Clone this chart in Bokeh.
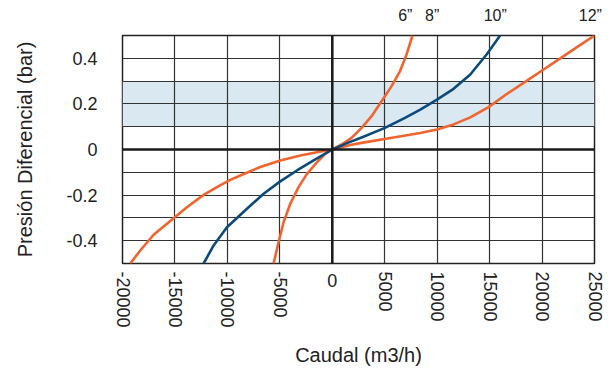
import math
from bokeh.plotting import figure
from bokeh.models import FixedTicker, BoxAnnotation, Span, LinearAxis
from bokeh.embed import file_html
from bokeh.resources import INLINE

# ---- data ----
x_ticks = [-20000, -15000, -10000, -5000, 0, 5000, 10000, 15000, 20000, 25000]
x_tick_labels = ["-20000", "-15000", "-10000", "-5000", " ", "5000", "10000", "15000", "20000", "25000"]
zero_tick = [0]
zero_label = ["0"]
y_ticks = [-0.4, -0.2, 0.0, 0.2, 0.4]
y_tick_labels = ["-0.4", "-0.2", "0", "0.2", "0.4"]
y_grid = [-0.4, -0.3, -0.2, -0.1, 0.0, 0.1, 0.2, 0.3, 0.4]

# 6"/8" curve (steep, orange)
c6_q = [-5596, -5120, -4643, -4004, -3213, -2412, -1459, -667, 0,
        890, 1840, 2795, 3750, 4700, 5655, 6450, 7085, 7650]
c6_p = [-0.5, -0.407, -0.319, -0.238, -0.165, -0.107, -0.056, -0.019, 0.0,
        0.022, 0.051, 0.095, 0.146, 0.212, 0.278, 0.343, 0.417, 0.5]

# 10" curve (blue)
c10_q = [-12268, -11315, -10043, -8135, -6546, -4958, -3369, -1780, 0,
         1525, 2797, 5020, 6930, 8390, 9980, 11565, 13157, 14750, 16000]
c10_p = [-0.5, -0.421, -0.341, -0.260, -0.194, -0.140, -0.092, -0.048, 0.0,
         0.030, 0.053, 0.095, 0.139, 0.175, 0.219, 0.266, 0.329, 0.419, 0.5]

# 12" curve (flat, orange)
c12_q = [-19259, -18306, -17035, -15128, -13857, -12268, -10997, -9725, -8771, -6864,
         -4958, -3051, -1462, 0, 1716, 2795, 5975, 8390, 9980, 11565, 13157, 14900,
         16500, 18562, 20150, 21740, 23330, 25000]
c12_p = [-0.5, -0.443, -0.374, -0.301, -0.253, -0.199, -0.165, -0.133, -0.114, -0.077,
         -0.048, -0.026, -0.012, 0.0, 0.020, 0.029, 0.054, 0.072, 0.088, 0.110, 0.141, 0.186,
         0.239, 0.302, 0.351, 0.400, 0.449, 0.5]

size_labels = ['6”', '8”', '10”', '12”']
size_label_x = [6960, 9530, 15540, 24600]

band_low, band_high = 0.1, 0.3

ORANGE = "#f2642d"
BLUE = "#0c4a7c"
FONT = "Liberation Sans"
TXT = "#222222"

p = figure(frame_width=472, frame_height=228, x_range=(-20000, 25000), y_range=(-0.5, 0.5),
           output_backend="svg", toolbar_location=None,
           min_border_left=122, min_border_right=13, min_border_top=35, min_border_bottom=103)
p.background_fill_color = "white"
p.border_fill_color = "white"
p.outline_line_color = "#222222"
p.outline_line_width = 1.5

band = BoxAnnotation(bottom=band_low, top=band_high, fill_color="#d9e8f1", fill_alpha=1.0,
                     line_color=None, level="image")
p.add_layout(band)

p.xgrid.ticker = FixedTicker(ticks=x_ticks)
p.ygrid.ticker = FixedTicker(ticks=y_grid)
p.grid.grid_line_color = "#333333"
p.grid.grid_line_width = 1.2
p.grid.grid_line_alpha = 1.0

p.add_layout(Span(location=0, dimension="width", line_color="#1a1a1a", line_width=2.5))
p.add_layout(Span(location=0, dimension="height", line_color="#1a1a1a", line_width=2.5))

p.line(c12_q, c12_p, line_color=ORANGE, line_width=2.6, line_join="round")
p.line(c6_q, c6_p, line_color=ORANGE, line_width=2.6, line_join="round")
p.line(c10_q, c10_p, line_color=BLUE, line_width=2.6, line_join="round")

# axes
bottom_axis = p.below[0]
left_axis = p.left[0]
bottom_axis.ticker = FixedTicker(ticks=x_ticks)
bottom_axis.major_label_overrides = dict(zip(x_ticks, x_tick_labels))
bottom_axis.major_label_orientation = -math.pi / 2
bottom_axis.major_label_standoff = 2
left_axis.ticker = FixedTicker(ticks=y_ticks)
left_axis.major_label_overrides = dict(zip(y_ticks, y_tick_labels))
left_axis.major_label_standoff = 19
left_axis.axis_label = "Presión Diferencial (bar)"
left_axis.axis_label_standoff = 27

zero_axis = LinearAxis(ticker=FixedTicker(ticks=zero_tick),
                       major_label_overrides=dict(zip(zero_tick, zero_label)),
                       major_label_standoff=-63,
                       axis_label="Caudal (m3/h)", axis_label_standoff=54)
p.add_layout(zero_axis, "below")

top_axis = LinearAxis(ticker=FixedTicker(ticks=size_label_x),
                      major_label_overrides=dict(zip(size_label_x, size_labels)),
                      major_label_standoff=6)
p.add_layout(top_axis, "above")

for ax in (bottom_axis, left_axis, zero_axis, top_axis):
    ax.axis_line_color = None
    ax.major_tick_line_color = None
    ax.minor_tick_line_color = None
    ax.major_label_text_font = FONT
    ax.major_label_text_font_size = "18px"
    ax.major_label_text_color = TXT
    ax.axis_label_text_font = FONT
    ax.axis_label_text_font_size = "20px"
    ax.axis_label_text_font_style = "normal"
    ax.axis_label_text_color = TXT
top_axis.major_label_text_font_size = "16px"

open("out.html", "w").write(file_html(p, INLINE))
